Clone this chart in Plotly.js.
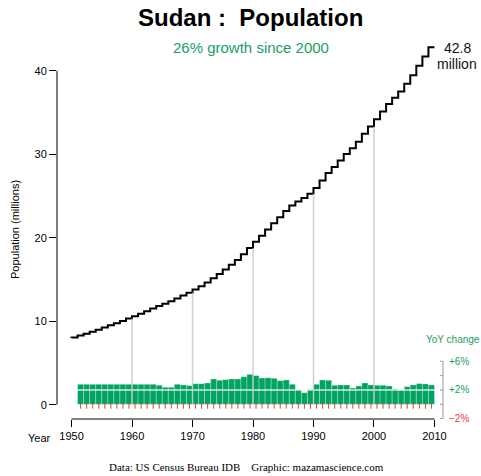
<!DOCTYPE html>
<html><head><meta charset="utf-8">
<script src="https://cdn.plot.ly/plotly-3.0.1.min.js"></script>
<style>html,body{margin:0;padding:0;background:#fff}</style>
</head><body><div id="chart" style="width:481px;height:476px"></div>
<script>
const years = [1950,1951,1952,1953,1954,1955,1956,1957,1958,1959,1960,1961,1962,1963,1964,1965,1966,1967,1968,1969,1970,1971,1972,1973,1974,1975,1976,1977,1978,1979,1980,1981,1982,1983,1984,1985,1986,1987,1988,1989,1990,1991,1992,1993,1994,1995,1996,1997,1998,1999,2000,2001,2002,2003,2004,2005,2006,2007,2008,2009,2010];
const population = [8.00,8.05,8.28,8.51,8.74,8.99,9.24,9.50,9.76,10.03,10.31,10.60,10.90,11.20,11.51,11.82,12.10,12.38,12.73,13.07,13.41,13.80,14.19,14.62,15.13,15.64,16.18,16.75,17.34,18.01,18.76,19.51,20.22,20.97,21.73,22.45,23.21,23.86,24.34,24.74,25.26,25.96,26.84,27.74,28.47,29.24,30.03,30.71,31.50,32.44,33.31,34.19,35.10,36.00,36.77,37.50,38.42,39.46,40.59,41.70,42.80];
const yoyYears = [1952,1953,1954,1955,1956,1957,1958,1959,1960,1961,1962,1963,1964,1965,1966,1967,1968,1969,1970,1971,1972,1973,1974,1975,1976,1977,1978,1979,1980,1981,1982,1983,1984,1985,1986,1987,1988,1989,1990,1991,1992,1993,1994,1995,1996,1997,1998,1999,2000,2001,2002,2003,2004,2005,2006,2007,2008,2009,2010];
const yoyPercent = [2.79,2.79,2.79,2.79,2.79,2.79,2.79,2.79,2.79,2.79,2.79,2.79,2.79,2.65,2.37,2.37,2.79,2.70,2.60,2.87,2.87,2.97,3.53,3.35,3.44,3.53,3.53,3.85,4.18,4.00,3.67,3.70,3.62,3.30,3.39,2.79,2.04,1.62,2.09,2.79,3.39,3.35,2.65,2.70,2.70,2.27,2.56,2.97,2.70,2.65,2.65,2.56,2.13,1.99,2.46,2.70,2.88,2.83,2.70];
const xTickVals = [1950,1960,1970,1980,1990,2000,2010];
const yTickVals = [0,10,20,30,40];
const gridYears = [1960,1970,1980,1990,2000];
const yoyTickVals = [-2,0,2,4,6];
const yoyLabelVals = [6,2,-2];
const yoyLabelText = ['+6%','+2%','\u22122%'];
const yoyRefLine = 2;

const GREEN = '#00A35F';
const TEXTGREEN = '#1A9E62';
const RED = '#EE3B3B';
const FONT = 'Liberation Sans, Arial, sans-serif';

const W = 481, H = 476, L = 57, R = 32, T = 33, B = 57;
const pw = W - L - R, ph = H - T - B;
const px = v => (v - L) / pw;          // pixel x -> paper
const py = v => (H - B - v) / ph;      // pixel y -> paper

const traces = [
  {type:'bar', x: yoyYears.map(y => y - 0.5), y: yoyPercent, width: 1, yaxis:'y2',
   marker:{color: GREEN, line:{color:'rgba(255,255,255,0.28)', width:1}}, hoverinfo:'skip'},
  {type:'scatter', mode:'markers', x: yoyYears.map(y => y - 0.5), y: yoyYears.map(() => -0.22), yaxis:'y2',
   marker:{symbol:'line-ns-open', size:4, color:RED, line:{color:RED, width:1}}, hoverinfo:'skip'},
  {type:'scatter', mode:'lines', x: years, y: population, line:{shape:'vh', color:'#000', width:2}, hoverinfo:'skip'}
];

const shapes = [];
// +2% reference line through bars
shapes.push({type:'line', xref:'x', yref:'y2', x0: yoyYears[0]-1, x1: yoyYears[yoyYears.length-1], y0: yoyRefLine, y1: yoyRefLine,
  line:{color:'rgba(255,255,255,0.6)', width:2}, layer:'above'});
// decade gridlines up to curve
gridYears.forEach(g => {
  shapes.push({type:'line', xref:'x', yref:'y', x0:g, x1:g, y0:0, y1: population[years.indexOf(g)],
    line:{color:'rgba(200,200,200,0.85)', width:1.5}, layer:'above'});
});
// R-style axis lines
shapes.push({type:'line', xref:'paper', yref:'y', x0:0, x1:0, y0:yTickVals[0], y1:yTickVals[yTickVals.length-1], line:{color:'#000', width:1}});
shapes.push({type:'line', xref:'x', yref:'paper', x0:xTickVals[0], x1:xTickVals[xTickVals.length-1], y0:0, y1:0, line:{color:'#000', width:1}});
// YoY axis
const ax = px(443);
shapes.push({type:'line', xref:'paper', yref:'y2', x0:ax, x1:ax, y0:Math.min(...yoyTickVals), y1:Math.max(...yoyTickVals), line:{color:'#999', width:1}});
yoyTickVals.forEach(v => shapes.push({type:'line', xref:'paper', yref:'y2', x0:px(440), x1:ax, y0:v, y1:v, line:{color:'#999', width:1}}));

const annotations = [
  {text:'<b>Sudan :\u00a0 Population</b>', xref:'paper', yref:'paper', x:px(250.5), y:py(17), showarrow:false, xanchor:'center', yanchor:'middle', font:{family:FONT, size:24, color:'#000'}},
  {text:'26% growth since 2000', xref:'paper', yref:'paper', x:px(250.5), y:py(47), showarrow:false, xanchor:'center', yanchor:'middle', font:{family:FONT, size:15, color:TEXTGREEN}},
  {text:String(population[population.length-1]), xref:'paper', yref:'paper', x:px(457), y:py(48), showarrow:false, xanchor:'center', yanchor:'middle', font:{family:FONT, size:14, color:'#111'}},
  {text:'million', xref:'paper', yref:'paper', x:px(457), y:py(64), showarrow:false, xanchor:'center', yanchor:'middle', font:{family:FONT, size:14, color:'#111'}},
  {text:'YoY change', xref:'paper', yref:'paper', x:px(453), y:py(339), showarrow:false, xanchor:'center', yanchor:'middle', font:{family:FONT, size:10, color:TEXTGREEN}},
  {text:'Year', xref:'x', yref:'paper', x:xTickVals[0], y:py(437.5), xshift:-19, showarrow:false, xanchor:'right', yanchor:'middle', font:{family:FONT, size:11, color:'#000'}},
  {text:'Population (millions)', xref:'paper', yref:'paper', x:px(15), y:py(230), textangle:-90, showarrow:false, xanchor:'center', yanchor:'middle', font:{family:FONT, size:11, color:'#000'}},
  {text:'Data: US Census Bureau IDB \u00a0\u00a0 Graphic: mazamascience.com', xref:'paper', yref:'paper', x:px(246.5), y:py(467), showarrow:false, xanchor:'center', yanchor:'middle', font:{family:'Liberation Serif, Times New Roman, serif', size:11, color:'#000'}}
];
yoyLabelVals.forEach((v, i) => annotations.push({text: yoyLabelText[i], xref:'paper', yref:'y2', x:px(447), y:v, showarrow:false, xanchor:'left', yanchor:'middle',
  font:{family:FONT, size:10, color: v < 0 ? RED : TEXTGREEN}}));

const layout = {
  width:W, height:H, margin:{l:L, r:R, t:T, b:B, pad:0},
  paper_bgcolor:'#fff', plot_bgcolor:'#fff', showlegend:false, bargap:0,
  xaxis:{range:[1947.6, 2012.4], tickvals:xTickVals, ticktext:xTickVals.map(String), ticks:'outside', ticklen:7, tickcolor:'#000',
    showgrid:false, zeroline:false, showline:false, tickfont:{family:FONT, size:11, color:'#000'}, fixedrange:true},
  yaxis:{range:[-1.712, 44.512], tickvals:yTickVals, ticks:'outside', ticklen:7, tickcolor:'#000',
    showgrid:false, zeroline:false, showline:false, tickfont:{family:FONT, size:11, color:'#000'}, fixedrange:true},
  yaxis2:{range:[-2.05, 51.79], overlaying:'y', visible:false, fixedrange:true},
  shapes: shapes, annotations: annotations
};
Plotly.newPlot('chart', traces, layout, {staticPlot:true, displayModeBar:false});
</script></body></html>
